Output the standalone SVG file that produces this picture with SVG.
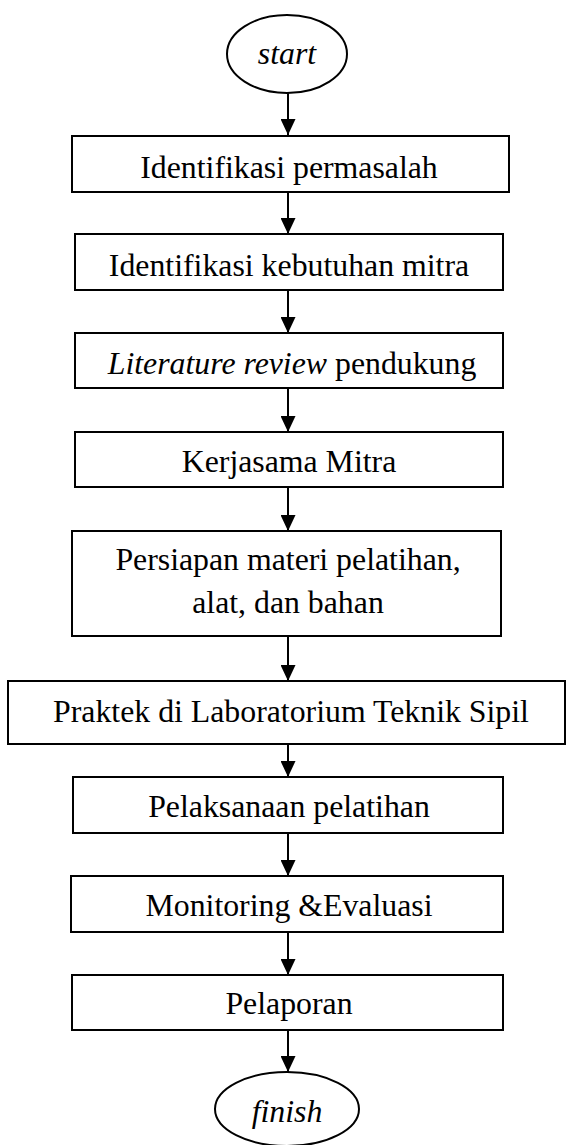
<svg xmlns="http://www.w3.org/2000/svg" width="566" height="1145" viewBox="0 0 566 1145">
<style>
.box{fill:#fff;stroke:#000;stroke-width:2}
.t{font-family:"Liberation Serif","Times New Roman",serif;font-size:31.8px;fill:#000;text-anchor:middle}
.i{font-style:italic}
.c{stroke:#000;stroke-width:2;fill:none;marker-end:url(#ah)}
</style>
<defs>
<marker id="ah" viewBox="0 0 16 15" refX="16" refY="7.5" markerWidth="16" markerHeight="15" markerUnits="userSpaceOnUse" orient="auto">
<path d="M0,0 L16,7.5 L0,15 Z" fill="#000"/>
</marker>
</defs>
<rect width="566" height="1145" fill="#fff"/>
<g id="connectors">
<line class="c" x1="288" y1="93" x2="288" y2="135"/>
<line class="c" x1="288" y1="192" x2="288" y2="234"/>
<line class="c" x1="288" y1="290" x2="288" y2="333"/>
<line class="c" x1="288" y1="388" x2="288" y2="432"/>
<line class="c" x1="288" y1="487" x2="288" y2="531"/>
<line class="c" x1="288" y1="636" x2="288" y2="681"/>
<line class="c" x1="288" y1="744" x2="288" y2="777"/>
<line class="c" x1="288" y1="833" x2="288" y2="876"/>
<line class="c" x1="288" y1="932" x2="288" y2="975"/>
<line class="c" x1="288" y1="1030" x2="288" y2="1072"/>
</g>
<g id="start">
<ellipse class="box" cx="287" cy="54" rx="60" ry="39"/>
<text class="t i" x="287" y="64">start</text>
</g>
<g id="n1">
<rect class="box" x="72" y="136" width="437" height="56"/>
<text class="t" x="289" y="178">Identifikasi permasalah</text>
</g>
<g id="n2">
<rect class="box" x="75" y="234" width="428" height="56"/>
<text class="t" x="289" y="276">Identifikasi kebutuhan mitra</text>
</g>
<g id="n3">
<rect class="box" x="75" y="333" width="428" height="55"/>
<text class="t" x="292" y="374"><tspan class="i">Literature review</tspan> pendukung</text>
</g>
<g id="n4">
<rect class="box" x="75" y="432" width="428" height="55"/>
<text class="t" x="289" y="472">Kerjasama Mitra</text>
</g>
<g id="n5">
<rect class="box" x="72" y="531" width="429" height="105"/>
<text class="t" x="288" y="570">Persiapan materi pelatihan,</text>
<text class="t" x="288" y="613">alat, dan bahan</text>
</g>
<g id="n6">
<rect class="box" x="8" y="681" width="557" height="63"/>
<text class="t" x="291" y="722">Praktek di Laboratorium Teknik Sipil</text>
</g>
<g id="n7">
<rect class="box" x="73" y="777" width="430" height="56"/>
<text class="t" x="289" y="817">Pelaksanaan pelatihan</text>
</g>
<g id="n8">
<rect class="box" x="71" y="876" width="432" height="56"/>
<text class="t" x="289" y="916">Monitoring &amp;Evaluasi</text>
</g>
<g id="n9">
<rect class="box" x="72" y="975" width="431" height="55"/>
<text class="t" x="289" y="1014">Pelaporan</text>
</g>
<g id="finish">
<ellipse class="box" cx="287" cy="1109" rx="72" ry="37"/>
<text class="t i" x="287" y="1122">finish</text>
</g>
</svg>
